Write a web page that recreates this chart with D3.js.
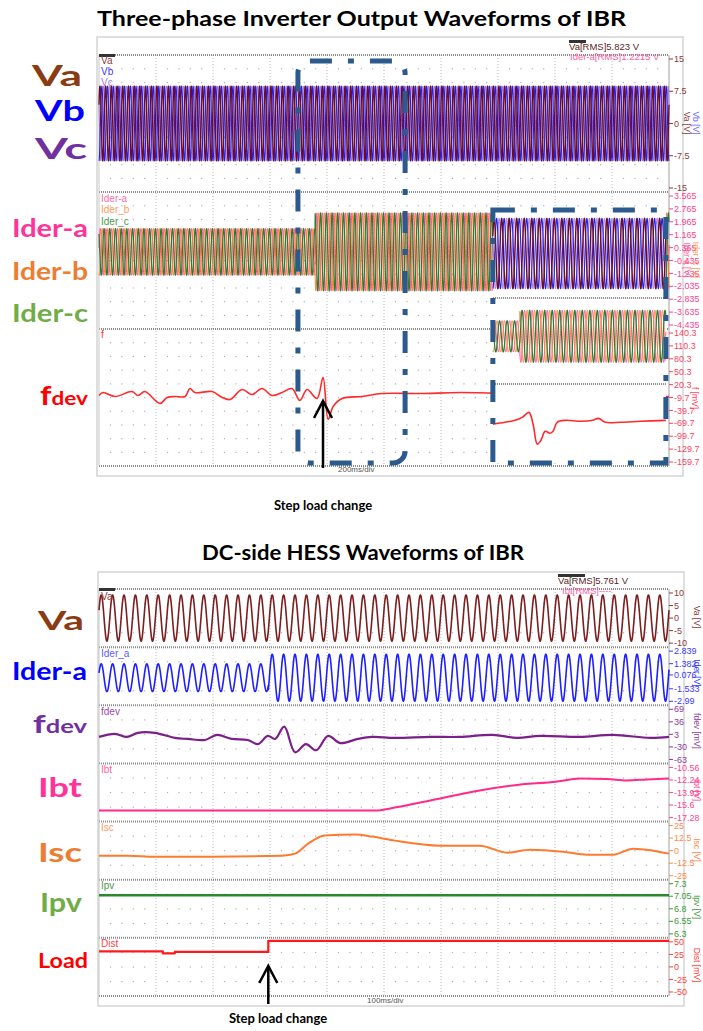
<!DOCTYPE html>
<html>
<head>
<meta charset="utf-8">
<script src="https://cdn.jsdelivr.net/npm/d3@7"></script>
<style>
  body { margin: 0; background: #fff; }
  svg { display: block; }
</style>
</head>
<body>
<div id="chart"></div>
<script>
const width = 703;
const height = 1031;

const mainsHz = 50;

// top capture: 200 ms/div, 10 div
const topSpan = [0, 2];
const topStep = 0.758;
const topVAmp = 8.7;
const topIAmpBefore = 1.45;
const topIAmpAfter = 2.42;
const topIOffset = 0.1;

const topVTicks = [15, 7.5, 0, -7.5, -15];
const topITicks = [3.565, 2.765, 1.965, 1.165, 0.365, -0.435, -1.235, -2.035, -2.835, -3.635, -4.435];
const topFTicks = [140.3, 110.3, 80.3, 50.3, 20.3, -9.7, -39.7, -69.7, -99.7, -129.7, -159.7];

const fTopT = [0, 0.014, 0.056, 0.116, 0.137, 0.161, 0.214, 0.239, 0.267, 0.302, 0.319, 0.337, 0.397, 0.432, 0.46, 0.502, 0.537, 0.572, 0.607, 0.642, 0.677, 0.705, 0.73, 0.765, 0.786, 0.804, 0.822, 0.853, 0.923, 0.993, 1.126, 1.267, 1.45, 1.7, 2.0];
const fTopV = [-5.1, 1.8, -7.4, 4.1, -5.1, 4.1, -23.5, -9.7, -7.4, -7.4, 11.1, 1.8, 4.1, -9.7, -14.3, 8.8, -2.8, 11.1, -5.1, 1.8, 11.1, -16.6, 8.8, -12.0, 36.5, -60.5, -30, -12.0, -7.4, -0.5, -0.5, 1.8, -0.5, -5.1, -7.4];

// zoomed inset (its own time base)
const insetSpan = [0, 0.46];
const insetStep = 0.072;
const insetFT = [0, 0.032, 0.059, 0.078, 0.096, 0.107, 0.118, 0.128, 0.139, 0.152, 0.16, 0.171, 0.193, 0.233, 0.265, 0.281, 0.299, 0.34, 0.393, 0.46];
const insetFV = [-72, -67.4, -62.8, -55.9, -44.3, -72, -118.2, -109, -88.2, -92.8, -88.2, -67.4, -62.8, -65.1, -62.8, -58.2, -67.4, -67.4, -65.1, -62.8];

// bottom capture: 100 ms/div, 10 div
const botSpan = [0, 1];
const botStep = 0.297;
const vaAmp = 9.2;
const iaAmpBefore = 1.61;
const iaAmpAfter = 2.73;
const iaOffset = -0.25;

const vaTicks = [10, 5, 0, -5, -10];
const iaTicks = [2.839, 1.382, 0.076, -1.533, -2.99];
const fdevTicks = [69, 36, 3, -30, -63];
const ibtTicks = [-10.56, -12.24, -13.93, -15.6, -17.28];
const iscTicks = [25, 12.5, 0, -12.5, -25];
const ipvTicks = [7.3, 7.05, 6.8, 6.55, 6.3];
const distTicks = [50, 25, 0, -25, -50];

const fdevT = [0, 0.028, 0.049, 0.068, 0.098, 0.133, 0.156, 0.186, 0.207, 0.233, 0.261, 0.279, 0.296, 0.309, 0.325, 0.344, 0.363, 0.381, 0.402, 0.423, 0.454, 0.479, 0.519, 0.581, 0.633, 0.691, 0.733, 0.774, 0.844, 0.902, 0.967, 1.0];
const fdevV = [-3.7, 4.3, -3.7, 7.0, 7.0, -6.4, -9.1, -11.8, 1.6, -9.1, -11.8, -22.6, -1.0, -9.1, 23.2, -44.1, -22.6, -38.8, -1.0, -19.9, -9.1, -3.7, -6.4, -3.7, -3.7, 1.6, -6.4, -1.0, -3.7, 1.6, -6.4, -3.7];

const ibtT = [0, 0.484, 0.519, 0.581, 0.668, 0.726, 0.804, 0.844, 0.891, 0.926, 0.961, 1.0];
const ibtV = [-16.34, -16.34, -15.94, -15.0, -13.65, -12.98, -12.44, -12.04, -12.1, -12.3, -12.17, -12.04];

const iscT = [0, 0.051, 0.098, 0.198, 0.321, 0.344, 0.367, 0.396, 0.449, 0.479, 0.519, 0.598, 0.668, 0.716, 0.756, 0.814, 0.856, 0.902, 0.937, 0.972, 1.0];
const iscV = [-5, -5, -6, -6, -5, -3, 7, 15, 16, 14, 10, 5, 5, -2, 1, -1, -4, -4, 2, 0, -3];

const ipvT = [0, 1];
const ipvV = [7.07, 7.07];

const distT = [0, 0.112, 0.133, 0.297, 1.0];
const distV = [31, 27, 30, 52, 52];

// ---------- layout ----------
const svg = d3.select("#chart").append("svg")
  .attr("width", width).attr("height", height)
  .style("font-family", "'Liberation Sans', Arial, sans-serif");

const plotL = 99, plotR = 669;
const xTop = d3.scaleLinear().domain(topSpan).range([plotL, plotR]);
const xBot = d3.scaleLinear().domain(botSpan).range([plotL, plotR]);

const topPanes = [[55, 192], [192, 329], [329, 466]];
const botTop = 589, botBottom = 996;
const botH = (botBottom - botTop) / 7;
const botPanes = d3.range(7).map(i => [botTop + i * botH, botTop + (i + 1) * botH]);

const paneScale = (pane, ticks) => d3.scaleLinear()
  .domain([d3.min(ticks), d3.max(ticks)])
  .range([pane[1] - 4, pane[0] + 4]);

// sampled sine with a stepped envelope
function sineTrace(span, dt, amp, phaseDeg, offset) {
  const pts = [];
  for (let t = span[0]; t <= span[1] + 1e-9; t += dt) {
    pts.push([t, offset(t) + amp(t) * Math.sin(2 * Math.PI * mainsHz * t + phaseDeg * Math.PI / 180)]);
  }
  return pts;
}

function frame(x0, y0, x1, y1) {
  svg.append("rect").attr("x", x0).attr("y", y0)
    .attr("width", x1 - x0).attr("height", y1 - y0)
    .attr("fill", "#fff").attr("stroke", "#d4d4d4").attr("stroke-width", 1.5);
}

function grid(panes, rows) {
  const g = svg.append("g");
  const y0 = panes[0][0], y1 = panes[panes.length - 1][1];
  d3.range(1, 10).forEach(i => {
    const x = plotL + i * (plotR - plotL) / 10;
    g.append("line").attr("x1", x).attr("x2", x).attr("y1", y0).attr("y2", y1)
      .attr("stroke", "#b8b8b8").attr("stroke-dasharray", "1,2");
  });
  panes.forEach(p => {
    d3.range(1, rows).forEach(r => {
      const y = p[0] + r * (p[1] - p[0]) / rows;
      d3.range(1, 50).forEach(k => {
        if (k % 5 === 0) return;
        g.append("rect").attr("x", plotL + k * (plotR - plotL) / 50 - 0.5).attr("y", y - 0.5)
          .attr("width", 1.2).attr("height", 1.2).attr("fill", "#b0b0b0");
      });
    });
  });
  // pane separators
  const seps = [y0].concat(panes.map(p => p[1]));
  seps.forEach(y => {
    g.append("line").attr("x1", plotL).attr("x2", plotR).attr("y1", y).attr("y2", y)
      .attr("stroke", "#8a8a8a").attr("stroke-width", 2).attr("stroke-dasharray", "1,1");
  });
  g.append("line").attr("x1", plotL).attr("x2", plotL).attr("y1", y0).attr("y2", y1)
    .attr("stroke", "#c8c8c8");
  g.append("line").attr("x1", plotR).attr("x2", plotR).attr("y1", y0).attr("y2", y1)
    .attr("stroke", "#a0a0a0");
}

function rightAxis(y, ticks, color, fmt) {
  const g = svg.append("g");
  ticks.forEach(v => {
    g.append("line").attr("x1", plotR).attr("x2", plotR + 4).attr("y1", y(v)).attr("y2", y(v))
      .attr("stroke", color);
    g.append("text").attr("x", plotR + 5).attr("y", y(v)).attr("dy", "0.35em")
      .attr("font-size", 9).attr("fill", color).text(fmt ? fmt(v) : v);
  });
}

function unitLabel(x, yc, text, color) {
  svg.append("text").attr("transform", `translate(${x},${yc}) rotate(90)`)
    .attr("text-anchor", "middle").attr("font-size", 8.5).attr("fill", color).text(text);
}

function trace(x, y, pts, color, w, curve) {
  svg.append("path")
    .datum(pts)
    .attr("fill", "none").attr("stroke", color).attr("stroke-width", w)
    .attr("stroke-linejoin", "round")
    .attr("d", d3.line().x(d => x(d[0])).y(d => y(d[1])).curve(curve || d3.curveLinear));
}

function inner(x, y, text, color) {
  svg.append("text").attr("x", x).attr("y", y).attr("font-size", 10)
    .attr("fill", color).text(text);
}

function bigLabel(x, y, w, parts, color, size) {
  const t = svg.append("text").attr("x", x).attr("y", y)
    .attr("font-family", "Lato, 'Open Sans', sans-serif").attr("font-weight", "bold")
    .attr("fill", color).attr("font-size", size)
    .attr("textLength", w).attr("lengthAdjust", "spacingAndGlyphs");
  parts.forEach(p => t.append("tspan").attr("font-size", p[1]).text(p[0]));
}

function title(x0, x1, y, text) {
  svg.append("text").attr("x", (x0 + x1) / 2).attr("y", y).attr("text-anchor", "middle")
    .attr("font-family", "Lato, 'Open Sans', sans-serif").attr("font-weight", "bold")
    .attr("font-size", 21).attr("textLength", x1 - x0).attr("lengthAdjust", "spacingAndGlyphs")
    .text(text);
}

function arrow(x, yTip, yEnd) {
  const g = svg.append("g").attr("stroke", "#000").attr("stroke-width", 2.5).attr("fill", "none");
  g.append("line").attr("x1", x).attr("x2", x).attr("y1", yTip).attr("y2", yEnd);
  g.append("path").attr("d", `M${x - 9},${yTip + 17}L${x},${yTip}L${x + 9},${yTip + 17}`);
}

const fmtTick = v => (v < 0 ? "-" : "") + Math.abs(v);
const vColors = ["#6a0c2a", "#2020f0", "#a070d8"];
const vWidths = [1.4, 1.1, 1];
const iColors = ["#ff4b95", "#ff7f2a", "#2a7d35"];
const iWidths = [1, 1, 1.2];

// =================== TOP CAPTURE ===================
title(97, 626, 26, "Three-phase Inverter Output Waveforms of IBR");
frame(97, 37, 683, 476);
grid(topPanes, 10);

const yTV = paneScale(topPanes[0], topVTicks);
const yTI = paneScale(topPanes[1], topITicks);
const yTF = paneScale(topPanes[2], topFTicks);

[2, 1, 0].forEach(k => {
  trace(xTop, yTV, sineTrace(topSpan, 0.0004, () => topVAmp, 30 - k * 120, () => 0), vColors[k], vWidths[k]);
});
[0, 1, 2].forEach(k => {
  trace(xTop, yTI, sineTrace(topSpan, 0.0004,
    t => t < topStep ? topIAmpBefore : topIAmpAfter, 10 - k * 120, () => topIOffset), iColors[k], iWidths[k]);
});
trace(xTop, yTF, d3.zip(fTopT, fTopV), "#ff2a2a", 1.6, d3.curveCatmullRom);

rightAxis(yTV, topVTicks, "#8a3a3a", fmtTick);
rightAxis(yTI, topITicks, "#ff3f8f", fmtTick);
rightAxis(yTF, topFTicks, "#ff3f5f", fmtTick);
unitLabel(684, 123, "Va [V]", "#8a3a3a");
unitLabel(693, 123, "Vb [V]", "#6b6bff");
unitLabel(684, 260, "Ider-a [V]", "#ff5fa0");
unitLabel(693, 260, "Ider_c [V]", "#ff9a5a");
unitLabel(692, 398, "f [mV]", "#ff4060");

svg.append("rect").attr("x", plotL).attr("y", 54).attr("width", 16).attr("height", 3).attr("fill", "#333");
inner(101, 64, "Va", "#8a3a3a");
inner(101, 75, "Vb", "#3a3aff");
inner(101, 86, "Vc", "#a775dd");
inner(101, 202, "Ider-a", "#ff6fa8");
inner(101, 213, "Ider_b", "#ff9a5a");
inner(101, 225, "Ider_c", "#4a9a4a");
inner(101, 338, "f", "#ff3030");

svg.append("rect").attr("x", 569).attr("y", 40).attr("width", 17).attr("height", 3).attr("fill", "#333");
svg.append("text").attr("x", 569).attr("y", 50).attr("font-size", 9.5).attr("fill", "#5a2424").text("Va[RMS]5.823 V");
svg.append("text").attr("x", 570).attr("y", 60).attr("font-size", 9.5).attr("fill", "#ff5f9f").text("Ider-a[RMS]1.2215 V");
svg.append("text").attr("x", 338).attr("y", 472).attr("font-size", 8).attr("fill", "#555").text("200ms/div");

// zoomed inset
const inX0 = xTop(1.382), inX1 = xTop(1.989);
const xIn = d3.scaleLinear().domain(insetSpan).range([inX0, inX1]);
svg.append("rect").attr("x", inX0).attr("y", 210).attr("width", inX1 - inX0).attr("height", 253).attr("fill", "#fff");
const yInV = d3.scaleLinear().domain([-10.5, 10.5]).range([296, 211]);
const yInI = d3.scaleLinear().domain([-4.435, 3.565]).range([384, 298]);
[2, 1, 0].forEach(k => {
  trace(xIn, yInV, sineTrace(insetSpan, 0.0002, () => topVAmp, 30 - k * 120, () => 0), vColors[k], vWidths[k]);
});
[0, 1, 2].forEach(k => {
  trace(xIn, yInI, sineTrace(insetSpan, 0.0002,
    t => t < insetStep ? topIAmpBefore : topIAmpAfter, 10 - k * 120, () => 0), iColors[k], iWidths[k]);
});
[298, 384].forEach(y => {
  svg.append("line").attr("x1", inX0).attr("x2", inX1).attr("y1", y).attr("y2", y)
    .attr("stroke", "#8a8a8a").attr("stroke-width", 2).attr("stroke-dasharray", "1,1");
});
trace(xIn, yTF, d3.zip(insetFT, insetFV), "#ff2a2a", 1.6, d3.curveCatmullRom);

// dash-dot call-out boxes
svg.append("rect").attr("x", inX0).attr("y", 210).attr("width", inX1 - inX0).attr("height", 253)
  .attr("fill", "none").attr("stroke", "#2d5a8c").attr("stroke-width", 5)
  .attr("stroke-dasharray", "22,16,6,16");
svg.append("rect").attr("x", xTop(0.698)).attr("y", 61).attr("width", xTop(1.074) - xTop(0.698)).attr("height", 402)
  .attr("rx", 12).attr("fill", "none").attr("stroke", "#2d5a8c").attr("stroke-width", 5)
  .attr("stroke-dasharray", "22,16,6,16");

arrow(xTop(0.786), 401, 468);
svg.append("text").attr("x", xTop(0.786)).attr("y", 510).attr("text-anchor", "middle")
  .attr("font-family", "Lato, 'Open Sans', sans-serif").attr("font-weight", "bold").attr("font-size", 13)
  .text("Step load change");

bigLabel(32, 86, 50, [["Va", 28]], "#8a3b12", 28);
bigLabel(35, 121, 50, [["Vb", 28]], "#0000ff", 28);
bigLabel(35, 159, 52, [["Vc", 28]], "#7030a0", 28);
bigLabel(12, 237, 76, [["Ider-a", 24]], "#ff3399", 24);
bigLabel(12, 280, 76, [["Ider-b", 24]], "#ed7d31", 24);
bigLabel(12, 322, 76, [["Ider-c", 24]], "#70ad47", 24);
bigLabel(40, 405, 48, [["f", 27], ["dev", 19]], "#ff0000", 27);

// =================== BOTTOM CAPTURE ===================
title(202, 524, 560, "DC-side HESS Waveforms of IBR");
frame(98, 572, 684, 1006);
grid(botPanes, 4);

const yVa = paneScale(botPanes[0], vaTicks);
const yIa = paneScale(botPanes[1], iaTicks);
const yFd = paneScale(botPanes[2], fdevTicks);
const yIb = paneScale(botPanes[3], ibtTicks);
const yIs = paneScale(botPanes[4], iscTicks);
const yIp = paneScale(botPanes[5], ipvTicks);
const yDi = paneScale(botPanes[6], distTicks);

trace(xBot, yVa, sineTrace(botSpan, 0.0002, () => vaAmp, 20, () => 0), "#7b1f1f", 1.6);
trace(xBot, yIa, sineTrace(botSpan, 0.0002, t => t < botStep ? iaAmpBefore : iaAmpAfter, 20, () => iaOffset), "#2020ff", 1.6);
trace(xBot, yFd, d3.zip(fdevT, fdevV), "#7b1f8a", 2.2, d3.curveCatmullRom);
trace(xBot, yIb, d3.zip(ibtT, ibtV), "#ff2a8a", 2, d3.curveMonotoneX);
trace(xBot, yIs, d3.zip(iscT, iscV), "#ff7a30", 2, d3.curveMonotoneX);
trace(xBot, yIp, d3.zip(ipvT, ipvV), "#2a8a2a", 2.6);
trace(xBot, yDi, d3.zip(distT, distV), "#ff1a1a", 2.2, d3.curveStepAfter);

rightAxis(yVa, vaTicks, "#8a3a3a", fmtTick);
rightAxis(yIa, iaTicks, "#3a3aff", fmtTick);
rightAxis(yFd, fdevTicks, "#8a3a9a", fmtTick);
rightAxis(yIb, ibtTicks, "#ff3f8f", fmtTick);
rightAxis(yIs, iscTicks, "#ff8a4a", fmtTick);
rightAxis(yIp, ipvTicks, "#3a9a3a", fmtTick);
rightAxis(yDi, distTicks, "#ff4040", fmtTick);
unitLabel(694, 617, "Va [V]", "#8a3a3a");
unitLabel(694, 673, "Ider [V]", "#3a3aff");
unitLabel(694, 731, "fdev [mV]", "#8a3a9a");
unitLabel(694, 790, "Ibt [V]", "#ff3f8f");
unitLabel(694, 850, "Isc [V]", "#ff8a4a");
unitLabel(694, 907, "Ipv [V]", "#3a9a3a");
unitLabel(694, 965, "Dist [mV]", "#ff4040");

svg.append("rect").attr("x", plotL).attr("y", 588).attr("width", 16).attr("height", 3).attr("fill", "#333");
inner(101, 600, "Va", "#8a3a3a");
inner(101, 657, "Ider_a", "#5a5aff");
inner(101, 715, "fdev", "#9a4aaa");
inner(101, 773, "Ibt", "#ff5f9f");
inner(101, 831, "Isc", "#ff9a5a");
inner(101, 889, "Ipv", "#4a9a4a");
inner(101, 947, "Dist", "#ff4040");

svg.append("rect").attr("x", 558).attr("y", 574).attr("width", 27).attr("height", 3).attr("fill", "#333");
svg.append("text").attr("x", 558).attr("y", 584).attr("font-size", 9.5).attr("fill", "#5a2424").text("Va[RMS]5.761 V");
svg.append("text").attr("x", 562).attr("y", 594).attr("font-size", 9.5).attr("fill", "#ff5f9f").text("Ibt[RMS]----");
svg.append("text").attr("x", 367).attr("y", 1003).attr("font-size", 8).attr("fill", "#555").text("100ms/div");

arrow(xBot(botStep), 966, 1004);
svg.append("text").attr("x", 278).attr("y", 1023).attr("text-anchor", "middle")
  .attr("font-family", "Lato, 'Open Sans', sans-serif").attr("font-weight", "bold").attr("font-size", 13)
  .text("Step load change");

bigLabel(38, 630, 46, [["Va", 27]], "#8a3b12", 27);
bigLabel(12, 680, 75, [["Ider-a", 24]], "#0000ff", 24);
bigLabel(33, 733, 54, [["f", 25], ["dev", 18]], "#7030a0", 25);
bigLabel(38, 797, 44, [["Ibt", 27]], "#ff3399", 27);
bigLabel(38, 862, 44, [["Isc", 27]], "#ed7d31", 27);
bigLabel(40, 912, 42, [["Ipv", 27]], "#70ad47", 27);
bigLabel(38, 968, 50, [["Load", 20]], "#ff0000", 20);
</script>
</body>
</html>
